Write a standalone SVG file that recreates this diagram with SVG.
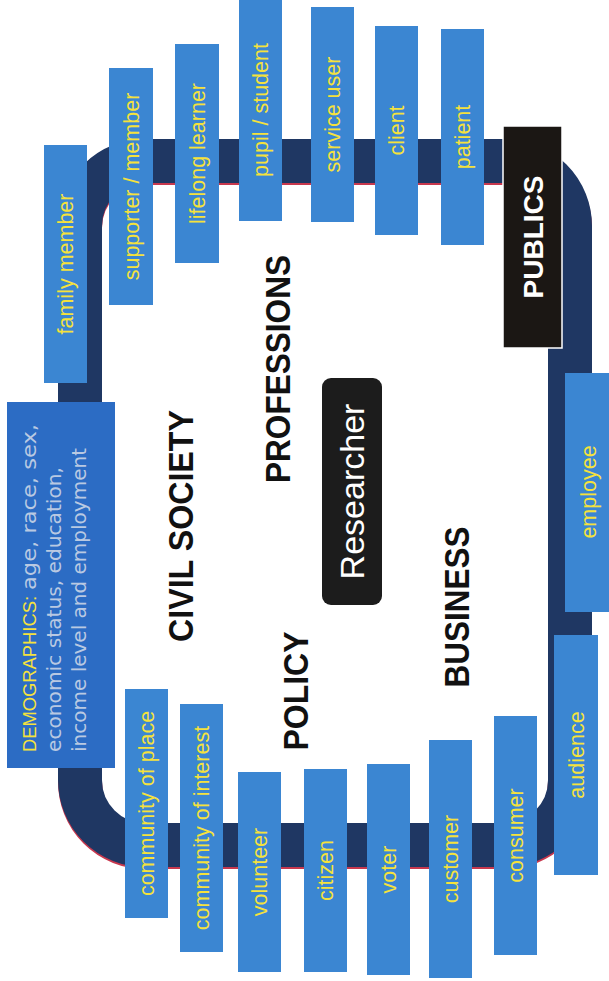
<svg xmlns="http://www.w3.org/2000/svg" width="609" height="981" viewBox="0 0 609 981">
<style>
.box{fill:#3b86d2}
.lbl{font-family:"Liberation Sans",Arial,sans-serif;font-size:21.5px;fill:#f5e23c;text-anchor:middle}
.big{font-family:"Liberation Sans",Arial,sans-serif;font-weight:bold;font-size:35px;fill:#111;text-anchor:middle}
.demo{font-family:"DejaVu Sans",sans-serif;font-size:19px;fill:#b9c9e2}
</style>
<rect width="609" height="981" fill="#fff"/>
<g id="connectors">
  <rect x="80" y="161" width="490" height="684" rx="65" fill="none" stroke="#c8384e" stroke-width="44" transform="translate(0,2)"/>
  <rect x="80" y="161" width="490" height="684" rx="65" fill="none" stroke="#1f3763" stroke-width="44"/>
</g>
<g id="demographics">
  <rect x="7" y="402" width="108" height="366" fill="#2c6cc4"/>
  <text transform="translate(36,752) rotate(-90)" font-family="Liberation Sans,Arial,sans-serif" font-size="18.5" fill="#f5e23c" textLength="156" lengthAdjust="spacingAndGlyphs">DEMOGRAPHICS:</text>
  <text class="demo" transform="translate(36,590) rotate(-90)" textLength="166" lengthAdjust="spacingAndGlyphs">age, race, sex,</text>
  <text class="demo" transform="translate(61,752) rotate(-90)" textLength="285" lengthAdjust="spacingAndGlyphs">economic status, education,</text>
  <text class="demo" transform="translate(86,752) rotate(-90)" textLength="304" lengthAdjust="spacingAndGlyphs">income level and employment</text>
</g>
<g id="family-member"><rect class="box" x="44" y="145" width="43" height="238"/><text class="lbl" transform="translate(65.5,264) rotate(-90)" dy="0.35em">family member</text></g>
<g id="supporter-member"><rect class="box" x="109" y="68" width="44" height="237"/><text class="lbl" transform="translate(131,186.5) rotate(-90)" dy="0.35em">supporter / member</text></g>
<g id="lifelong-learner"><rect class="box" x="175" y="44" width="44" height="219"/><text class="lbl" transform="translate(197,153.5) rotate(-90)" dy="0.35em">lifelong learner</text></g>
<g id="pupil-student"><rect class="box" x="239" y="-2" width="43" height="223"/><text class="lbl" transform="translate(260.5,110) rotate(-90)" dy="0.35em">pupil / student</text></g>
<g id="service-user"><rect class="box" x="311" y="7" width="43" height="215"/><text class="lbl" transform="translate(332.5,114.5) rotate(-90)" dy="0.35em">service user</text></g>
<g id="client"><rect class="box" x="375" y="26" width="43" height="209"/><text class="lbl" transform="translate(396.5,130.5) rotate(-90)" dy="0.35em">client</text></g>
<g id="patient"><rect class="box" x="441" y="29" width="43" height="216"/><text class="lbl" transform="translate(462.5,137) rotate(-90)" dy="0.35em">patient</text></g>
<g id="publics"><rect x="503" y="126" width="59" height="222" fill="#1b1714" stroke="#fff" stroke-width="1.5"/><text transform="translate(532.5,237) rotate(-90)" dy="0.36em" font-family="Liberation Sans,Arial,sans-serif" font-weight="bold" font-size="28" fill="#fff" text-anchor="middle">PUBLICS</text></g>
<g id="employee"><rect class="box" x="565" y="373" width="47" height="239"/><text class="lbl" transform="translate(588,492) rotate(-90)" dy="0.35em">employee</text></g>
<g id="audience"><rect class="box" x="554" y="635" width="44" height="240"/><text class="lbl" transform="translate(576,755) rotate(-90)" dy="0.35em">audience</text></g>
<g id="community-of-place"><rect class="box" x="125" y="689" width="43" height="229"/><text class="lbl" transform="translate(146.5,803.5) rotate(-90)" dy="0.35em">community of place</text></g>
<g id="community-of-interest"><rect class="box" x="180" y="704" width="43" height="248"/><text class="lbl" transform="translate(201.5,828) rotate(-90)" dy="0.35em">community of interest</text></g>
<g id="volunteer"><rect class="box" x="238" y="772" width="43" height="200"/><text class="lbl" transform="translate(259.5,872) rotate(-90)" dy="0.35em">volunteer</text></g>
<g id="citizen"><rect class="box" x="304" y="769" width="43" height="203"/><text class="lbl" transform="translate(325.5,870.5) rotate(-90)" dy="0.35em">citizen</text></g>
<g id="voter"><rect class="box" x="367" y="764" width="43" height="211"/><text class="lbl" transform="translate(388.5,869.5) rotate(-90)" dy="0.35em">voter</text></g>
<g id="customer"><rect class="box" x="429" y="740" width="43" height="238"/><text class="lbl" transform="translate(450.5,859) rotate(-90)" dy="0.35em">customer</text></g>
<g id="consumer"><rect class="box" x="494" y="716" width="43" height="239"/><text class="lbl" transform="translate(515.5,835.5) rotate(-90)" dy="0.35em">consumer</text></g>
<g id="civil-society"><text class="big" transform="translate(180.5,526) rotate(-90)" dy="0.36em" textLength="232" lengthAdjust="spacingAndGlyphs">CIVIL SOCIETY</text></g>
<g id="professions"><text class="big" transform="translate(277,369) rotate(-90)" dy="0.36em" textLength="228" lengthAdjust="spacingAndGlyphs">PROFESSIONS</text></g>
<g id="policy"><text class="big" transform="translate(295,691) rotate(-90)" dy="0.36em" textLength="119" lengthAdjust="spacingAndGlyphs">POLICY</text></g>
<g id="business"><text class="big" transform="translate(456,607) rotate(-90)" dy="0.36em" textLength="161" lengthAdjust="spacingAndGlyphs">BUSINESS</text></g>
<g id="researcher"><rect x="322" y="378" width="60" height="227" rx="9" fill="#1c1c1c"/><text transform="translate(352,491.5) rotate(-90)" dy="0.36em" font-family="Liberation Sans,Arial,sans-serif" font-size="34" fill="#fff" text-anchor="middle">Researcher</text></g>
</svg>
